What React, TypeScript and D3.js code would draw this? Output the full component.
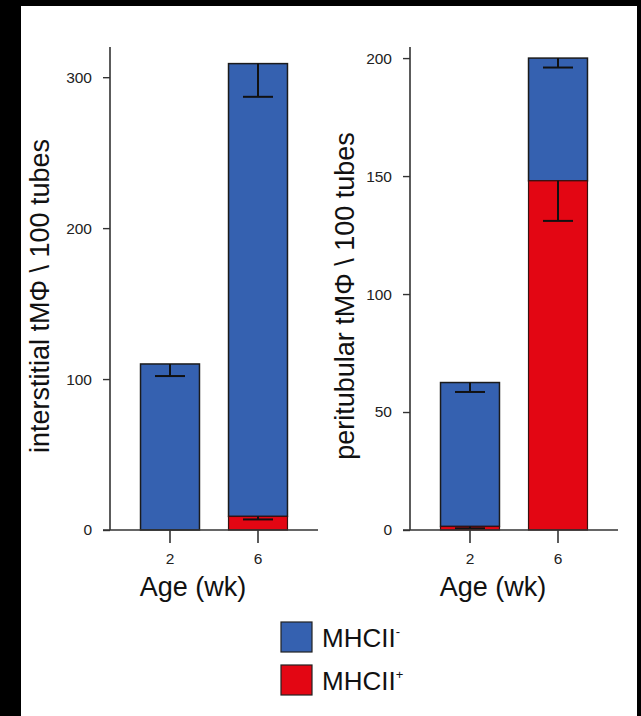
import React, { useEffect, useRef } from "react";
import * as d3 from "d3";

// Ages on the x axis
const ages = ["2", "6"];

// interstitial tMΦ per 100 tubes
const interNeg = [110, 300];
const interPos = [0, 9];
const interNegErr = [8, 22];
const interPosErr = [0, 2];
const interTicks = [0, 100, 200, 300];

// peritubular tMΦ per 100 tubes
const periNeg = [61, 52];
const periPos = [1.5, 148];
const periNegErr = [4, 4];
const periPosErr = [0.8, 17];
const periTicks = [0, 50, 100, 150, 200];

const seriesNames = ["MHCII", "MHCII"];
const seriesSup = ["-", "+"];

const BLUE = "#3561b0";
const RED = "#e30613";
const AXIS = "#333";
const FONT = "Liberation Sans, Arial, sans-serif";

const App = () => {
  const ref = useRef();

  useEffect(() => {
    const width = 641;
    const height = 716;
    const svg = d3.select(ref.current);
    svg.selectAll("*").remove();
    svg.attr("width", width).attr("height", height);

    svg.append("rect").attr("width", width).attr("height", height).attr("fill", "#000");
    svg.append("rect").attr("x", 21).attr("y", 6).attr("width", 616).attr("height", height - 6).attr("fill", "#fff");

    const drawPanel = (opts) => {
      const { x0, neg, pos, negErr, posErr, ticks, yMax, label, labelX } = opts;
      const yScale = d3.scaleLinear([0, yMax], [530, 47]);
      const xScale = d3.scaleBand(ages, [x0 + 16, x0 + 192]).paddingInner(0.33).paddingOuter(0.165);
      const g = svg.append("g");

      // y axis
      const yAxis = d3.axisLeft(yScale).tickValues(ticks).tickSize(7).tickPadding(11).tickSizeOuter(0);
      g.append("g")
        .attr("transform", `translate(${x0},0)`)
        .call(yAxis)
        .call((a) => a.select(".domain").attr("stroke", AXIS).attr("stroke-width", 1.6).attr("d", `M0,${yScale(yMax)}V${yScale(0)}`))
        .call((a) => a.selectAll(".tick line").attr("stroke", AXIS).attr("stroke-width", 1.4))
        .call((a) => a.selectAll(".tick text").attr("font-family", FONT).attr("font-size", 15.5).attr("fill", "#222"));

      // bars
      const bw = xScale.bandwidth();
      ages.forEach((age, i) => {
        const bx = xScale(age);
        const total = neg[i] + pos[i];
        g.append("rect")
          .attr("x", bx).attr("y", yScale(total))
          .attr("width", bw).attr("height", yScale(pos[i]) - yScale(total))
          .attr("fill", BLUE).attr("stroke", "#1b1b1b").attr("stroke-width", 1.5);
        if (pos[i] > 0) {
          g.append("rect")
            .attr("x", bx).attr("y", yScale(pos[i]))
            .attr("width", bw).attr("height", yScale(0) - yScale(pos[i]))
            .attr("fill", RED).attr("stroke", "#3a1010").attr("stroke-width", 1.2);
        }
        const cx = bx + bw / 2;
        const errs = [
          [total, negErr[i]],
          [pos[i], posErr[i]],
        ];
        errs.forEach(([top, e]) => {
          if (e <= 0) return;
          g.append("line")
            .attr("x1", cx).attr("x2", cx)
            .attr("y1", yScale(top)).attr("y2", yScale(top - e))
            .attr("stroke", "#111").attr("stroke-width", 2);
          g.append("line")
            .attr("x1", cx - 15).attr("x2", cx + 15)
            .attr("y1", yScale(top - e)).attr("y2", yScale(top - e))
            .attr("stroke", "#111").attr("stroke-width", 2);
        });
      });

      // x axis
      const xAxis = d3.axisBottom(xScale).tickSize(13).tickPadding(10).tickSizeOuter(0);
      g.append("g")
        .attr("transform", `translate(0,${yScale(0)})`)
        .call(xAxis)
        .call((a) => a.select(".domain").attr("stroke", AXIS).attr("stroke-width", 1.6).attr("d", `M${x0 - 7},0H${x0 + 208}`))
        .call((a) => a.selectAll(".tick line").attr("stroke", AXIS).attr("stroke-width", 1.6))
        .call((a) => a.selectAll(".tick text").attr("font-family", FONT).attr("font-size", 15.5).attr("fill", "#222"));

      g.append("text")
        .attr("x", x0 + 83).attr("y", 596)
        .attr("text-anchor", "middle")
        .attr("font-family", FONT).attr("font-size", 27).attr("fill", "#111")
        .text("Age (wk)");

      g.append("text")
        .attr("transform", `translate(${labelX},296) rotate(-90)`)
        .attr("text-anchor", "middle")
        .attr("dy", "0.35em")
        .attr("font-family", FONT).attr("font-size", 27).attr("fill", "#111")
        .text(label);
    };

    drawPanel({
      x0: 110, neg: interNeg, pos: interPos, negErr: interNegErr, posErr: interPosErr,
      ticks: interTicks, yMax: 320, label: "interstitial tMΦ \\ 100 tubes", labelX: 40,
    });
    drawPanel({
      x0: 410, neg: periNeg, pos: periPos, negErr: periNegErr, posErr: periPosErr,
      ticks: periTicks, yMax: 204.7, label: "peritubular tMΦ \\ 100 tubes", labelX: 345,
    });

    // legend
    const colors = [BLUE, RED];
    const leg = svg.append("g").attr("transform", "translate(281,622)");
    seriesNames.forEach((name, i) => {
      const row = leg.append("g").attr("transform", `translate(0,${i * 43})`);
      row.append("rect").attr("width", 31).attr("height", 30)
        .attr("fill", colors[i]).attr("stroke", "#222").attr("stroke-width", 1.2);
      const t = row.append("text")
        .attr("x", 41).attr("y", 25)
        .attr("font-family", FONT).attr("font-size", 26).attr("fill", "#111");
      t.append("tspan").text(name);
      t.append("tspan").attr("dy", -11).attr("font-size", 13).text(seriesSup[i]);
    });
  }, []);

  return <svg ref={ref} style={{ position: "absolute", left: 0, top: 0 }}></svg>;
};

export default App;
